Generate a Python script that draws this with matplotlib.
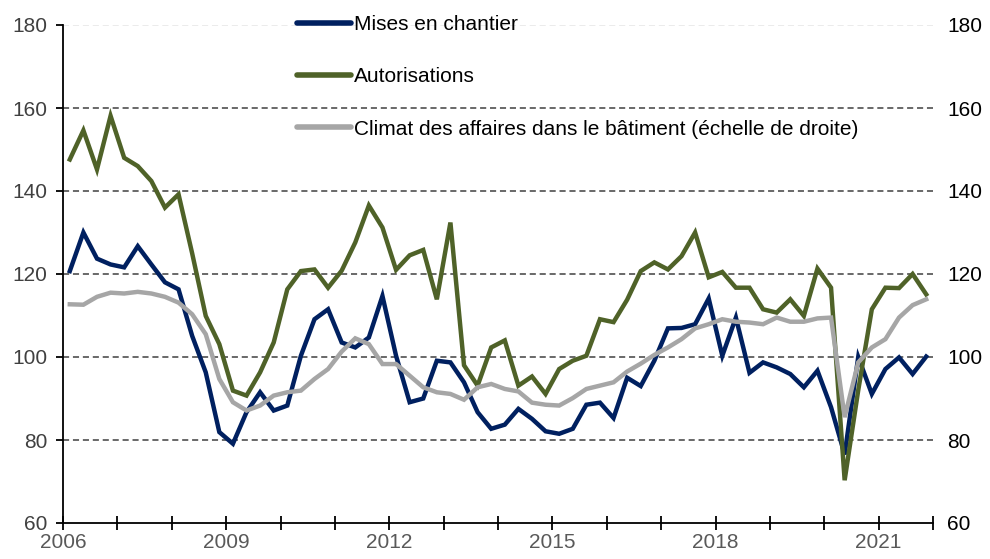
import matplotlib
matplotlib.use("Agg")
import matplotlib.pyplot as plt
import numpy as np

plt.rcParams['font.family'] = ['Liberation Sans', 'DejaVu Sans']

# quarterly series, 2006Q1 - 2021Q4
start_year = 2006
mises = [120.7, 130.0, 123.7, 122.3, 121.6, 126.7, 122.3, 118.0, 116.3, 105.1,
         96.3, 81.9, 79.1, 86.7, 91.5, 87.1, 88.3, 100.3, 109.1, 111.5,
         103.5, 102.3, 104.7, 114.7, 100.3, 89.1, 90.0, 99.1, 98.7, 93.9,
         86.7, 82.7, 83.7, 87.5, 85.1, 82.1, 81.5, 82.7, 88.5, 89.0,
         85.3, 95.0, 93.0, 99.1, 106.9, 107.0, 107.9, 114.1, 100.3, 109.5,
         96.2, 98.7, 97.5, 95.9, 92.7, 96.7, 87.9, 76.5, 100.0, 91.1,
         97.1, 99.9, 95.9, 100.1]
autorisations = [147.6, 154.6, 145.2, 158.1, 148.0, 146.0, 142.4, 136.0, 139.2, 125.0,
                 109.9, 103.1, 91.9, 90.7, 96.3, 103.5, 116.3, 120.7, 121.1, 116.7,
                 120.8, 127.6, 136.5, 131.2, 121.0, 124.5, 125.8, 113.9, 132.4, 98.0,
                 93.1, 102.3, 104.0, 93.1, 95.3, 91.1, 97.1, 99.1, 100.3, 109.1,
                 108.4, 113.8, 120.7, 122.8, 121.1, 124.3, 130.0, 119.2, 120.5, 116.7,
                 116.7, 111.5, 110.7, 113.9, 109.9, 121.3, 116.7, 70.3, 92.0, 111.5,
                 116.7, 116.6, 120.0, 115.1]
climat = [112.7, 112.6, 114.5, 115.5, 115.3, 115.7, 115.3, 114.5, 113.1, 110.3,
          105.5, 94.7, 89.1, 87.1, 88.3, 90.7, 91.5, 91.9, 94.7, 97.1,
          101.3, 104.5, 103.1, 98.3, 98.3, 95.5, 92.7, 91.5, 91.1, 89.7,
          92.7, 93.5, 92.3, 91.7, 89.0, 88.5, 88.3, 90.1, 92.3, 93.1,
          93.9, 96.5, 98.4, 100.5, 102.3, 104.3, 106.9, 107.9, 109.1, 108.5,
          108.3, 107.9, 109.5, 108.5, 108.5, 109.3, 109.5, 85.5, 98.7, 102.3,
          104.3, 109.5, 112.5, 113.9]

labels = ["Mises en chantier", "Autorisations",
          "Climat des affaires dans le bâtiment (échelle de droite)"]
colors = ["#002060", "#4F6228", "#A6A6A6"]

x = start_year + np.arange(len(mises)) / 4 + 0.125

fig = plt.figure(figsize=(9.9, 5.59), dpi=100)
ax = fig.add_axes([63 / 990, 1 - 523 / 559, 870 / 990, 498 / 559])
ax2 = ax.twinx()

for v in [80, 100, 120, 140, 160]:
    ax.axhline(v, color="#404040", lw=1.1, ls=(0, (4, 2.5)), zorder=1)
ax.axhline(180, color="#e6e6e6", lw=1.1, ls=(0, (4, 2.5)), zorder=1)

l1, = ax.plot(x, mises, color=colors[0], lw=3.2, solid_joinstyle="miter", zorder=3)
l2, = ax.plot(x, autorisations, color=colors[1], lw=3.2, solid_joinstyle="miter", zorder=3)
l3, = ax2.plot(x, climat, color=colors[2], lw=3.2, solid_joinstyle="miter", zorder=3)

for a in (ax, ax2):
    a.set_ylim(60, 180)
    a.set_xlim(2006, 2022)
    a.set_yticks(range(60, 181, 20))
    for s in ["top", "right"]:
        a.spines[s].set_visible(False)
ax2.spines["left"].set_visible(False)
ax2.spines["bottom"].set_visible(False)

ax.spines["left"].set_linewidth(1.3)
ax.spines["bottom"].set_linewidth(1.3)

ax.set_xticks(range(2006, 2023))
ax.set_xticklabels([str(y) if (y - 2006) % 3 == 0 else "" for y in range(2006, 2023)])
ax.tick_params(axis="x", direction="inout", length=10, width=1.3, labelsize=15,
               labelcolor="#595959", pad=2)
ax.tick_params(axis="y", direction="out", length=5, width=1.3, labelsize=15,
               labelcolor="#404040", pad=6)
ax2.tick_params(axis="y", length=0, labelsize=15, labelcolor="#000000", pad=10)

leg = ax2.legend([l1, l2, l3], labels, loc="upper left",
                 bbox_to_anchor=(297 / 990, 1 - 15 / 559), bbox_transform=fig.transFigure,
                 frameon=False, fontsize=15, handlelength=2.6, handletextpad=0.15,
                 labelspacing=1.6, borderpad=0, borderaxespad=0)
for h in leg.get_lines():
    h.set_linewidth(4)
    h.set_solid_capstyle("round")

fig.savefig("out.png", dpi=100)
